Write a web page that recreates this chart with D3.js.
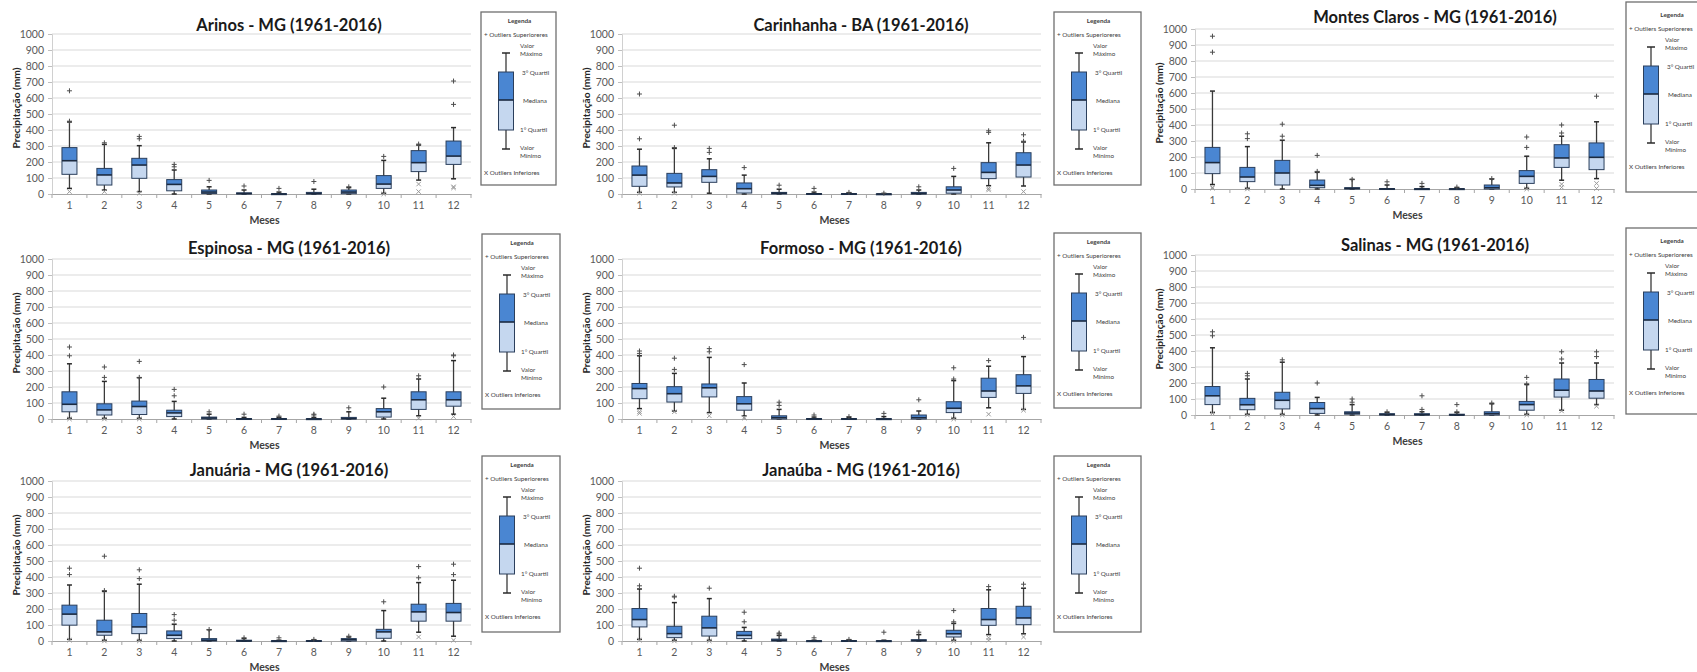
<!DOCTYPE html>
<html>
<head>
<meta charset="utf-8">
<script src="https://cdn.jsdelivr.net/npm/d3@7"></script>
<style>
  body { margin: 0; background: #fff; }
  svg { display: block; font-family: Lato, "Open Sans", sans-serif; }
</style>
</head>
<body>
<svg id="chart" width="1697" height="672"></svg>
<script>
const months = [1, 2, 3, 4, 5, 6, 7, 8, 9, 10, 11, 12];
const yTicks = [0, 100, 200, 300, 400, 500, 600, 700, 800, 900, 1000];

// [min, q1, mediana, q3, max] per month
const arinosBox = [[35,123,208,290,450],[25,56,119,160,310],[15,98,181,223,302],[0,20,60,90,150],[0,3,12,25,45],[0,0,3,7,25],[0,0,0,2,12],[0,0,3,10,30],[0,2,12,25,40],[5,35,62,115,210],[87,140,196,271,306],[95,185,237,331,415]];
const arinosUp = [[455,645],[320],[345,360],[170,185],[85],[50],[35],[78],[45],[235],[312],[560,706]];
const arinosLow = [[15],[15],[5],[],[],[],[],[],[],[0],[62,15],[45,38]];

const carinhanhaBox = [[10,48,118,175,280],[10,44,69,129,285],[5,73,110,152,220],[0,6,33,69,118],[0,0,5,10,30],[0,0,1,3,12],[0,0,0,3,8],[0,0,0,1,3],[0,0,3,10,25],[0,5,25,45,110],[52,96,135,196,320],[50,106,181,258,325]];
const carinhanhaUp = [[345,625],[290,430],[260,285],[165],[55],[35],[10],[5],[45],[160],[385,395],[330,370]];
const carinhanhaLow = [[5],[5],[],[],[],[],[],[],[],[],[35,25],[15]];

const montesClarosBox = [[28,96,165,260,612],[5,46,75,135,265],[0,25,100,179,305],[0,8,23,56,105],[0,0,4,8,60],[0,0,0,3,25],[0,0,0,2,15],[0,0,0,2,8],[0,0,8,25,62],[5,35,79,115,205],[55,135,194,277,330],[65,121,198,288,420]];
const montesClarosUp = [[855,955],[315,345],[330,405],[110,210],[60],[45],[35],[12],[65],[260,325],[350,400],[580]];
const montesClarosLow = [[10,5],[0],[],[],[],[],[],[],[],[0],[30,10],[35,3]];

const espinosaBox = [[5,45,92,170,345],[5,25,57,95,235],[5,28,78,112,258],[0,15,38,55,110],[0,0,6,12,30],[0,0,0,3,10],[0,0,0,3,10],[0,0,0,2,10],[0,0,3,10,45],[0,12,45,65,130],[20,60,120,170,250],[30,80,120,170,365]];
const espinosaUp = [[395,450],[260,325],[260,360],[145,185],[45],[30],[18],[25,30],[70],[200],[270],[395,400]];
const espinosaLow = [[0],[0],[0],[],[],[],[],[],[],[],[5],[15]];

const formosoBox = [[65,127,190,222,395],[50,106,158,202,285],[40,138,195,219,385],[20,55,95,140,225],[0,0,8,20,60],[0,0,0,3,12],[0,0,0,3,10],[0,0,0,2,15],[0,0,8,25,50],[5,40,67,108,240],[70,135,175,255,330],[60,160,207,277,390]];
const formosoUp = [[410,425],[310,380],[420,440],[340],[85,105],[25],[15],[35],[120],[250,320],[365],[510]];
const formosoLow = [[45,35],[45],[20],[10,5],[],[],[],[],[],[0],[30],[55]];

const salinasBox = [[15,65,120,178,420],[5,33,64,104,225],[5,38,92,142,330],[0,10,40,78,110],[0,5,12,20,65],[0,0,3,8,15],[0,0,2,8,20],[0,0,0,5,15],[0,0,8,20,70],[5,30,65,85,190],[30,112,155,225,325],[65,105,150,222,325]];
const salinasUp = [[495,520],[245,260],[345],[200],[80,100],[20],[35,120],[20,65],[75],[195,235],[350,395],[365,395]];
const salinasLow = [[10],[0],[0],[],[],[],[],[],[],[0],[25],[55]];

const januariaBox = [[10,99,168,224,350],[5,36,57,130,310],[5,46,88,172,355],[0,15,36,63,105],[0,0,5,15,70],[0,0,0,5,15],[0,0,0,2,5],[0,0,0,3,8],[0,0,8,15,25],[0,17,57,73,190],[55,124,182,230,365],[30,124,178,235,380]];
const januariaUp = [[415,455],[315,530],[390,445],[130,165],[72],[20],[20],[10],[30],[245],[395,465],[415,480]];
const januariaLow = [[5],[0],[0],[],[],[],[],[],[],[],[25],[5]];

const janaubaBox = [[10,88,134,203,325],[5,21,46,92,240],[5,31,82,155,265],[0,15,35,60,85],[0,0,5,12,35],[0,0,0,2,5],[0,0,0,3,8],[0,0,0,2,5],[0,0,3,8,40],[5,25,45,67,110],[40,98,134,203,320],[45,102,144,217,330]];
const janaubaUp = [[345,455],[275,280],[330],[120,180],[45,50],[20],[10],[55],[55],[120,190],[340],[355]];
const janaubaLow = [[5],[0],[0],[],[],[],[],[],[],[0],[20,5],[25]];

const titles = ['Arinos - MG (1961-2016)', 'Carinhanha - BA (1961-2016)', 'Montes Claros - MG (1961-2016)',
  'Espinosa - MG (1961-2016)', 'Formoso - MG (1961-2016)', 'Salinas - MG (1961-2016)',
  'Januária - MG (1961-2016)', 'Janaúba - MG (1961-2016)'];

// layout: plot left, 1000-line top, title centre, legend box
const panels = [
  { box: arinosBox, up: arinosUp, low: arinosLow, px: 52, py: 34, tx: 289, ty: 25, lg: [481, 12, 75, 173, 0] },
  { box: carinhanhaBox, up: carinhanhaUp, low: carinhanhaLow, px: 622, py: 34, tx: 861, ty: 25, lg: [1054, 12, 87, 173, 0] },
  { box: montesClarosBox, up: montesClarosUp, low: montesClarosLow, px: 1195, py: 29, tx: 1435, ty: 17, lg: [1626, 2, 90, 190, 4] },
  { box: espinosaBox, up: espinosaUp, low: espinosaLow, px: 52, py: 259, tx: 289, ty: 248, lg: [482, 234, 78, 175, 0] },
  { box: formosoBox, up: formosoUp, low: formosoLow, px: 622, py: 259, tx: 861, ty: 248, lg: [1054, 233, 87, 175, 0] },
  { box: salinasBox, up: salinasUp, low: salinasLow, px: 1195, py: 255, tx: 1435, ty: 245, lg: [1626, 228, 90, 186, 4] },
  { box: januariaBox, up: januariaUp, low: januariaLow, px: 52, py: 481, tx: 289, ty: 470, lg: [482, 456, 78, 176, 0] },
  { box: janaubaBox, up: janaubaUp, low: janaubaLow, px: 622, py: 481, tx: 861, ty: 470, lg: [1054, 456, 87, 176, 0] }
];

const W = 419, H = 160, BOXW = 15;
const DARK = '#4a86d2', LIGHT = '#c5d7ef', EDGE = '#2b3f5c';
const svg = d3.select('#chart');

function cross(g, cx, cy, s, color) {
  g.append('line').attr('x1', cx - s).attr('x2', cx + s).attr('y1', cy).attr('y2', cy)
    .attr('stroke', color).attr('stroke-width', 1);
  g.append('line').attr('x1', cx).attr('x2', cx).attr('y1', cy - s).attr('y2', cy + s)
    .attr('stroke', color).attr('stroke-width', 1);
}

function xmark(g, cx, cy, s, color) {
  g.append('line').attr('x1', cx - s).attr('x2', cx + s).attr('y1', cy - s).attr('y2', cy + s)
    .attr('stroke', color).attr('stroke-width', 1);
  g.append('line').attr('x1', cx - s).attr('x2', cx + s).attr('y1', cy + s).attr('y2', cy - s)
    .attr('stroke', color).attr('stroke-width', 1);
}

function drawPanel(p, title) {
  const g = svg.append('g');
  const x = d3.scaleBand().domain(months).range([p.px, p.px + W]);
  const y = d3.scaleLinear().domain([0, 1000]).range([p.py + H, p.py]);

  // gridlines
  g.selectAll('.grid').data(yTicks.filter(d => d > 0)).join('line')
    .attr('x1', p.px).attr('x2', p.px + W)
    .attr('y1', d => y(d)).attr('y2', d => y(d))
    .attr('stroke', '#d9d9d9').attr('stroke-width', 1);

  // y axis
  const ya = g.append('g').attr('transform', `translate(${p.px},0)`)
    .call(d3.axisLeft(y).tickValues(yTicks).tickFormat(d3.format('d')).tickSize(4).tickPadding(4));
  ya.select('.domain').attr('stroke', '#d0d0d0');
  ya.selectAll('.tick line').attr('stroke', '#bfbfbf');
  ya.selectAll('text').attr('fill', '#595959').style('font-size', '10.5px').style('font-family', 'Lato');

  // x axis
  const xa = g.append('g').attr('transform', `translate(0,${p.py + H})`)
    .call(d3.axisBottom(x).tickSize(0).tickPadding(8));
  xa.select('.domain').attr('stroke', '#a6a6a6');
  xa.selectAll('text').attr('fill', '#595959').style('font-size', '10.5px').style('font-family', 'Lato');
  g.selectAll('.xt').data(months).join('line')
    .attr('x1', d => x(d)).attr('x2', d => x(d))
    .attr('y1', p.py + H).attr('y2', p.py + H + 4)
    .attr('stroke', '#a6a6a6');
  g.append('line').attr('x1', p.px + W).attr('x2', p.px + W)
    .attr('y1', p.py + H).attr('y2', p.py + H + 4).attr('stroke', '#a6a6a6');

  // titles
  g.append('text').attr('x', p.tx).attr('y', p.ty).attr('text-anchor', 'middle')
    .attr('dominant-baseline', 'central').style('font-size', '16.5px').style('font-weight', 'bold')
    .attr('fill', '#1a1a1a').text(title);
  g.append('text').attr('x', p.px + W / 2 + 3).attr('y', p.py + H + 26)
    .attr('text-anchor', 'middle').attr('dominant-baseline', 'central')
    .style('font-size', '10.5px').style('font-weight', 'bold').attr('fill', '#404040').text('Meses');
  g.append('text')
    .attr('transform', `translate(${p.px - 36},${p.py + H / 2 - 6}) rotate(-90)`)
    .attr('text-anchor', 'middle').attr('dominant-baseline', 'central')
    .style('font-size', '10.2px').style('font-weight', 'bold').attr('fill', '#262626')
    .text('Precipitação (mm)');

  // boxes
  months.forEach((m, i) => {
    const [mn, q1, md, q3, mx] = p.box[i];
    const cx = x(m) + x.bandwidth() / 2;
    const bx = cx - BOXW / 2;
    g.append('line').attr('x1', cx).attr('x2', cx).attr('y1', y(mx)).attr('y2', y(mn))
      .attr('stroke', '#3a3a3a').attr('stroke-width', 1.3);
    [mn, mx].forEach(v => g.append('line').attr('x1', cx - 2.5).attr('x2', cx + 2.5)
      .attr('y1', y(v)).attr('y2', y(v)).attr('stroke', '#2a2a2a').attr('stroke-width', 1.5));
    g.append('rect').attr('x', bx).attr('width', BOXW).attr('y', y(md)).attr('height', y(q1) - y(md))
      .attr('fill', LIGHT);
    g.append('rect').attr('x', bx).attr('width', BOXW).attr('y', y(q3)).attr('height', y(md) - y(q3))
      .attr('fill', DARK);
    g.append('rect').attr('x', bx).attr('width', BOXW).attr('y', y(q3)).attr('height', Math.max(y(q1) - y(q3), 1))
      .attr('fill', 'none').attr('stroke', EDGE).attr('stroke-width', 1);
    g.append('line').attr('x1', bx).attr('x2', bx + BOXW).attr('y1', y(md)).attr('y2', y(md))
      .attr('stroke', '#1b2a40').attr('stroke-width', 1.6);
    p.up[i].forEach(v => cross(g, cx, y(v), 2.5, '#4d4d4d'));
    p.low[i].forEach(v => xmark(g, cx, y(v), 2.2, '#9a9a9a'));
  });
}

function drawLegend([lx, ly, lw, lh, dy]) {
  const g = svg.append('g');
  g.append('rect').attr('x', lx).attr('y', ly).attr('width', lw).attr('height', lh)
    .attr('fill', '#fff').attr('stroke', '#6f6f6f').attr('stroke-width', 1.3);
  const t = (tx, ty, s, anchor, bold) => g.append('text').attr('x', tx).attr('y', ly + dy + ty)
    .attr('text-anchor', anchor || 'start').attr('dominant-baseline', 'central')
    .style('font-size', '6.3px').style('font-weight', bold ? 'bold' : 'normal').attr('fill', '#404040').text(s);
  t(lx + lw / 2 + 1, 8, 'Legenda', 'middle', true);
  t(lx + 3, 22, '+ Outliers Superioreres');
  t(lx + 39, 33, 'Valor');
  t(lx + 39, 41, 'Máximo');
  t(lx + 41, 60, '3° Quartil');
  t(lx + 42, 88, 'Mediana');
  t(lx + 39, 117, '1° Quartil');
  t(lx + 39, 135, 'Valor');
  t(lx + 39, 143, 'Mínimo');
  t(lx + 3, 160, 'X Outliers Inferiores');
  const cx = lx + 25, top = ly + dy;
  g.append('line').attr('x1', cx).attr('x2', cx).attr('y1', top + 41).attr('y2', top + 137)
    .attr('stroke', '#3a3a3a').attr('stroke-width', 1.3);
  [41, 137].forEach(v => g.append('line').attr('x1', cx - 4).attr('x2', cx + 4)
    .attr('y1', top + v).attr('y2', top + v).attr('stroke', '#2a2a2a').attr('stroke-width', 1.5));
  g.append('rect').attr('x', cx - 7.5).attr('y', top + 60).attr('width', 15).attr('height', 28).attr('fill', DARK);
  g.append('rect').attr('x', cx - 7.5).attr('y', top + 88).attr('width', 15).attr('height', 30).attr('fill', LIGHT);
  g.append('rect').attr('x', cx - 7.5).attr('y', top + 60).attr('width', 15).attr('height', 58)
    .attr('fill', 'none').attr('stroke', EDGE).attr('stroke-width', 1);
  g.append('line').attr('x1', cx - 7.5).attr('x2', cx + 7.5).attr('y1', top + 88).attr('y2', top + 88)
    .attr('stroke', '#1b2a40').attr('stroke-width', 1.6);
}

panels.forEach((p, i) => {
  drawPanel(p, titles[i]);
  drawLegend(p.lg);
});
</script>
</body>
</html>
